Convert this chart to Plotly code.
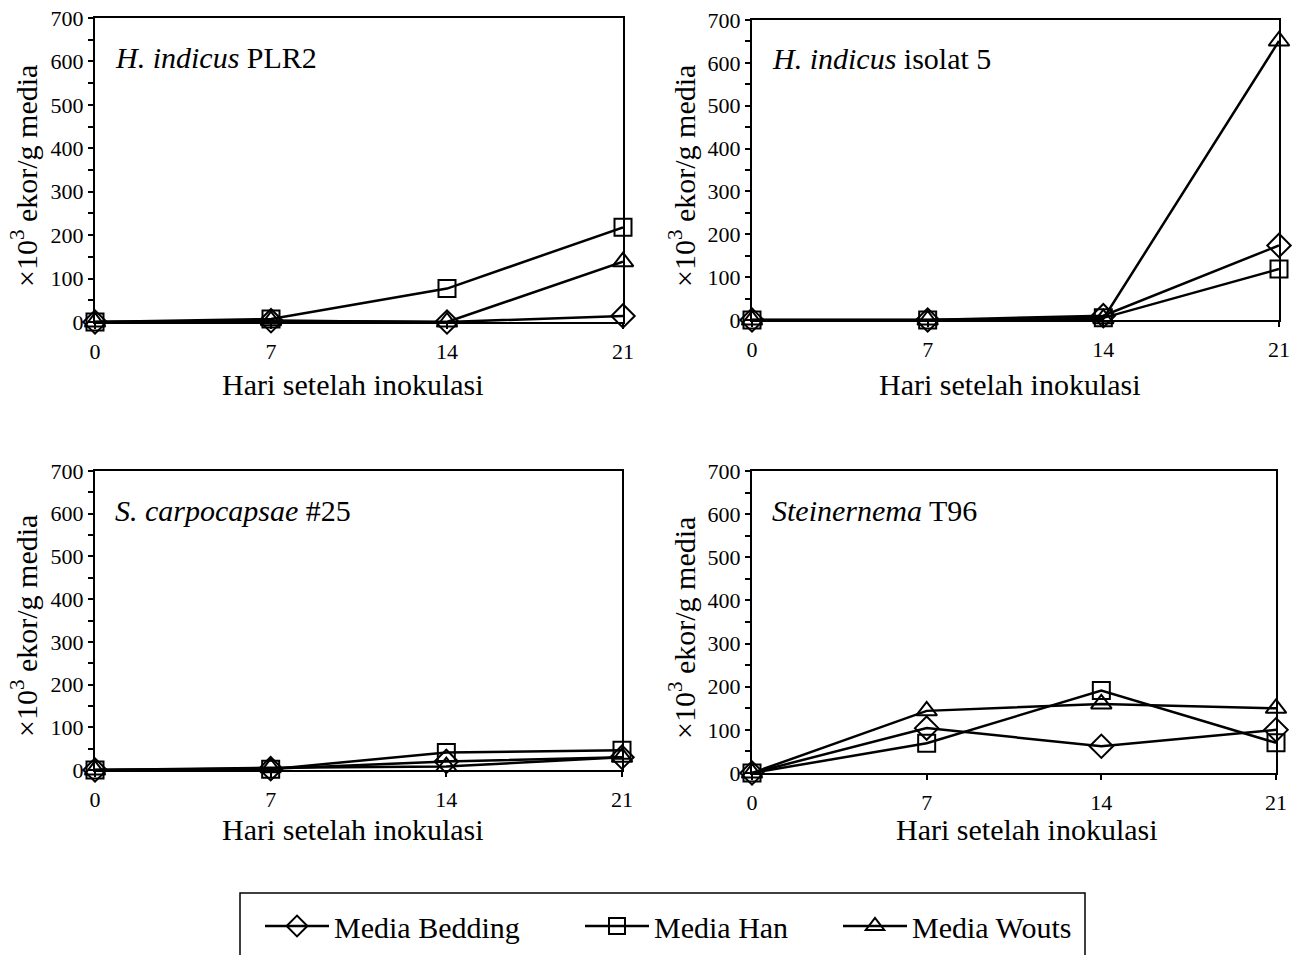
import plotly.graph_objects as go

days = [0, 7, 14, 21]
series_names = ["Media Bedding", "Media Han", "Media Wouts"]
panel_titles = ["<i>H. indicus</i> PLR2", "<i>H. indicus</i> isolat 5",
                "<i>S. carpocapsae</i> #25", "<i>Steinernema</i> T96"]

# values x10^3 ekor/g media
plr2_bedding = [0, 3, 0, 14]
plr2_han = [0, 7, 77, 218]
plr2_wouts = [0, 3, 0, 139]

iso5_bedding = [0, 0, 10, 174]
iso5_han = [0, 0, 5, 119]
iso5_wouts = [0, 0, 3, 651]

sc25_bedding = [0, 3, 20, 30]
sc25_han = [0, 2, 41, 46]
sc25_wouts = [0, 5, 8, 30]

t96_bedding = [0, 104, 62, 100]
t96_han = [0, 69, 191, 70]
t96_wouts = [0, 144, 160, 150]

panels = [
    [plr2_bedding, plr2_han, plr2_wouts],
    [iso5_bedding, iso5_han, iso5_wouts],
    [sc25_bedding, sc25_han, sc25_wouts],
    [t96_bedding, t96_han, t96_wouts],
]

W, H = 1295, 955
FONT = "Liberation Serif"

def px_x(p):
    return p / W

def px_y(p):
    return 1 - p / H

# plot areas in pixels: (left, right, top, bottom)
areas = [(95, 623, 18, 322), (752, 1279, 20, 320), (95, 622, 471, 770), (752, 1276, 471, 773)]
xtitle_pos = [(353, 384), (1010, 384), (353, 829), (1027, 829)]
ytitle_pos = [(24, 176), (682, 176), (24, 626), (682, 628)]

symbols = ["diamond-open", "square-open", "triangle-up-open"]
sizes = [18, 17, 18]
legends = ["legend", "legend2", "legend3"]

fig = go.Figure()
for i, (vals, area) in enumerate(zip(panels, areas)):
    xa = "x" if i == 0 else f"x{i+1}"
    ya = "y" if i == 0 else f"y{i+1}"
    for j, v in enumerate(vals):
        fig.add_trace(go.Scatter(
            x=days, y=v, xaxis=xa, yaxis=ya, mode="lines+markers",
            name=series_names[j],
            line=dict(color="black", width=2.5),
            marker=dict(symbol=symbols[j], size=sizes[j], color="black",
                        line=dict(color="black", width=2)),
            cliponaxis=False,
            showlegend=(i == 0), legend=legends[j],
        ))
    l, r, t, b = area
    axis_common = dict(showline=True, linecolor="black", linewidth=2, mirror=True,
                       ticks="outside", ticklen=5, tickwidth=1.5, tickcolor="black",
                       showgrid=False, zeroline=False,
                       tickfont=dict(family=FONT, size=22, color="black"))
    fig.layout[f"xaxis{'' if i == 0 else i+1}"] = dict(
        domain=[px_x(l), px_x(r)], anchor=ya, range=[0, 21],
        tickvals=days, ticktext=[str(d) for d in days], ticklabelstandoff=4,
        **axis_common)
    fig.layout[f"yaxis{'' if i == 0 else i+1}"] = dict(
        domain=[px_y(b), px_y(t)], anchor=xa, range=[0, 700], dtick=100,
        minor=dict(dtick=50, ticks="outside", ticklen=5, tickcolor="black", tickwidth=1.5),
        **axis_common)
    # panel title
    fig.add_annotation(text=panel_titles[i], xref="paper", yref="paper",
                       x=px_x(l + 18), y=px_y(t + 39), xanchor="left", yanchor="middle",
                       showarrow=False, font=dict(family=FONT, size=30, color="black"))
    # y title
    yx, yy = ytitle_pos[i]
    fig.add_annotation(text="×10<sup>3</sup> ekor/g media", xref="paper", yref="paper",
                       x=px_x(yx), y=px_y(yy), xanchor="center", yanchor="middle",
                       textangle=-90, showarrow=False,
                       font=dict(family=FONT, size=30, color="black"))
    # x title
    tx, ty = xtitle_pos[i]
    fig.add_annotation(text="Hari setelah inokulasi", xref="paper", yref="paper",
                       x=px_x(tx), y=px_y(ty), xanchor="center", yanchor="middle",
                       showarrow=False, font=dict(family=FONT, size=30, color="black"))

# legend frame
fig.add_shape(type="rect", xref="paper", yref="paper",
              x0=px_x(240), x1=px_x(1085), y0=px_y(965), y1=px_y(893),
              line=dict(color="black", width=1.5), fillcolor="rgba(0,0,0,0)")

legend_x = [260, 580, 838]
for k, lx in enumerate(legend_x):
    key = "legend" if k == 0 else f"legend{k+1}"
    fig.layout[key] = dict(x=px_x(lx), y=px_y(926), xanchor="left", yanchor="middle",
                           orientation="h", bgcolor="rgba(0,0,0,0)", borderwidth=0,
                           itemwidth=64,
                           font=dict(family=FONT, size=30, color="black"))

fig.update_layout(width=W, height=H, margin=dict(l=0, r=0, t=0, b=0, autoexpand=False),
                  paper_bgcolor="white", plot_bgcolor="white",
                  font=dict(family=FONT, color="black"))

fig.write_html("out.html", config={"displayModeBar": False},
               post_script="document.body.style.margin='0px';")
